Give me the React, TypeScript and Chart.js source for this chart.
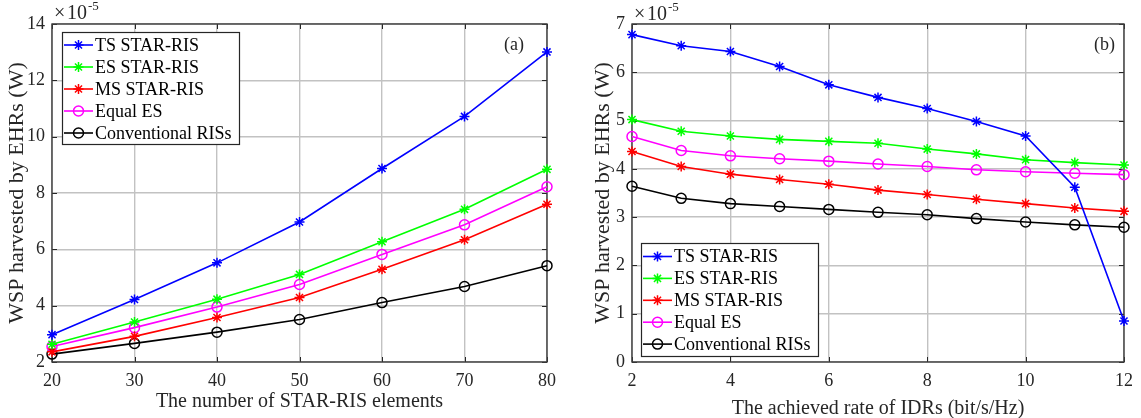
import React, { useEffect, useRef } from "react";
import { Chart, registerables } from "chart.js";

Chart.register(...registerables);

const FONT = '"Liberation Serif", "Times New Roman", Times, serif';
const TEXT = "#262626";

const seriesNames = ["TS STAR-RIS", "ES STAR-RIS", "MS STAR-RIS", "Equal ES", "Conventional RISs"];
const seriesColors = ["#0000ff", "#00ff00", "#ff0000", "#ff00ff", "#000000"];
const seriesMarkers = ["star", "star", "star", "circle", "circle"];

// Panel (a): WSP (x1e-5 W) vs number of STAR-RIS elements
const elementsA = [20, 30, 40, 50, 60, 70, 80];
const tsA = [2.97, 4.22, 5.52, 6.97, 8.87, 10.72, 13.01];
const esA = [2.63, 3.42, 4.23, 5.11, 6.27, 7.42, 8.84];
const msA = [2.36, 2.91, 3.58, 4.29, 5.29, 6.34, 7.6];
const eqA = [2.55, 3.22, 3.95, 4.75, 5.82, 6.87, 8.22];
const convA = [2.28, 2.66, 3.06, 3.51, 4.11, 4.68, 5.42];
const xTicksA = [20, 30, 40, 50, 60, 70, 80];
const yTicksA = [2, 4, 6, 8, 10, 12, 14];

// Panel (b): WSP (x1e-5 W) vs achieved rate of IDRs
const rateB = [2, 3, 4, 5, 6, 7, 8, 9, 10, 11, 12];
const tsB = [6.78, 6.55, 6.43, 6.12, 5.74, 5.48, 5.25, 4.98, 4.68, 3.62, 0.85];
const esB = [5.02, 4.78, 4.68, 4.61, 4.57, 4.53, 4.41, 4.31, 4.19, 4.13, 4.08];
const msB = [4.36, 4.05, 3.89, 3.78, 3.68, 3.56, 3.47, 3.37, 3.28, 3.19, 3.12];
const eqB = [4.67, 4.38, 4.27, 4.21, 4.16, 4.1, 4.05, 3.98, 3.94, 3.91, 3.88];
const convB = [3.64, 3.39, 3.28, 3.22, 3.16, 3.1, 3.05, 2.97, 2.9, 2.84, 2.79];
const xTicksB = [2, 4, 6, 8, 10, 12];
const yTicksB = [0, 1, 2, 3, 4, 5, 6, 7];

function drawMarker(ctx: CanvasRenderingContext2D, style: string, x: number, y: number, r: number, color: string) {
  ctx.save();
  ctx.strokeStyle = color;
  ctx.lineWidth = 1.5;
  ctx.beginPath();
  if (style === "circle") {
    ctx.arc(x, y, r, 0, Math.PI * 2);
  } else {
    const d = r * Math.SQRT1_2;
    ctx.moveTo(x - r, y);
    ctx.lineTo(x + r, y);
    ctx.moveTo(x, y - r);
    ctx.lineTo(x, y + r);
    ctx.moveTo(x - d, y - d);
    ctx.lineTo(x + d, y + d);
    ctx.moveTo(x - d, y + d);
    ctx.lineTo(x + d, y - d);
  }
  ctx.stroke();
  ctx.restore();
}

const decorPlugin = {
  id: "matlabDecor",
  beforeDatasetsDraw(chart: any, _args: any, opts: any) {
    const { ctx, chartArea: a } = chart;
    const xs = chart.scales.x;
    const ys = chart.scales.y;
    ctx.save();
    ctx.strokeStyle = TEXT;
    ctx.lineWidth = 1;
    const tl = 5;
    ctx.beginPath();
    for (const v of opts.xTicks) {
      const px = Math.round(xs.getPixelForValue(v)) + 0.5;
      ctx.moveTo(px, a.bottom);
      ctx.lineTo(px, a.bottom - tl);
      ctx.moveTo(px, a.top);
      ctx.lineTo(px, a.top + tl);
    }
    for (const v of opts.yTicks) {
      const py = Math.round(ys.getPixelForValue(v)) + 0.5;
      ctx.moveTo(a.left, py);
      ctx.lineTo(a.left + tl, py);
      ctx.moveTo(a.right, py);
      ctx.lineTo(a.right - tl, py);
    }
    ctx.stroke();
    ctx.strokeStyle = "#3c3c3c";
    ctx.lineWidth = 1.4;
    ctx.strokeRect(a.left, a.top, a.right - a.left, a.bottom - a.top);
    ctx.restore();
  },
  afterDraw(chart: any, _args: any, opts: any) {
    const { ctx, chartArea: a } = chart;
    ctx.save();
    // exponent label
    ctx.fillStyle = TEXT;
    ctx.textBaseline = "alphabetic";
    ctx.textAlign = "left";
    ctx.font = `20px ${FONT}`;
    ctx.fillText("\u00d7", a.left + 2, opts.expBase);
    ctx.fillText("10", a.left + 15, opts.expBase);
    ctx.font = `13px ${FONT}`;
    ctx.fillText("-5", a.left + 36, opts.expBase - 9);
    // panel label
    ctx.font = `18px ${FONT}`;
    ctx.textAlign = "right";
    ctx.textBaseline = "middle";
    ctx.fillText(opts.panel, a.right - opts.panelRight, 45);
    // legend
    const L = opts.legend;
    ctx.fillStyle = "#ffffff";
    ctx.fillRect(L.x, L.y, L.w, L.h);
    ctx.strokeStyle = TEXT;
    ctx.lineWidth = 1.2;
    ctx.strokeRect(L.x + 0.5, L.y + 0.5, L.w, L.h);
    chart.data.datasets.forEach((ds: any, i: number) => {
      const cy = L.y + L.first + i * L.step;
      ctx.strokeStyle = ds.borderColor;
      ctx.lineWidth = 1.6;
      ctx.beginPath();
      ctx.moveTo(L.x + 2, cy);
      ctx.lineTo(L.x + 31, cy);
      ctx.stroke();
      drawMarker(ctx, ds.pointStyle, L.x + 16.5, cy, 5, ds.borderColor);
      ctx.fillStyle = "#000000";
      ctx.font = `18px ${FONT}`;
      ctx.textAlign = "left";
      ctx.textBaseline = "middle";
      ctx.fillText(ds.label, L.x + 33, cy + 1);
    });
    ctx.restore();
  },
};

type PanelProps = {
  left: number;
  width: number;
  xs: number[];
  series: number[][];
  xMin: number;
  xMax: number;
  yMin: number;
  yMax: number;
  xTicks: number[];
  yTicks: number[];
  xTitle: string;
  yAxisWidth: number;
  padRight: number;
  yTitleOffset: number;
  xTitlePad: number;
  panel: string;
  panelRight: number;
  expBase: number;
  legend: { x: number; y: number; w: number; h: number; first: number; step: number };
};

function Panel(p: PanelProps) {
  const ref = useRef<HTMLCanvasElement>(null);
  useEffect(() => {
    if (!ref.current) return;
    const tickFont = { family: FONT, size: 18 };
    const chart = new Chart(ref.current, {
      type: "line",
      data: {
        datasets: p.series.map((vals, i) => ({
          label: seriesNames[i],
          data: p.xs.map((x, j) => ({ x, y: vals[j] })),
          borderColor: seriesColors[i],
          backgroundColor: seriesColors[i],
          borderWidth: 1.6,
          pointStyle: seriesMarkers[i] as any,
          pointRadius: 5,
          pointHoverRadius: 5,
          pointBorderWidth: 1.5,
          pointBorderColor: seriesColors[i],
          pointBackgroundColor: "rgba(0,0,0,0)",
          tension: 0,
          fill: false,
          clip: false as any,
        })),
      },
      options: {
        animation: false,
        responsive: false,
        events: [],
        layout: { padding: { left: 0, top: 24, right: p.padRight, bottom: 0 } },
        plugins: {
          legend: { display: false },
          tooltip: { enabled: false },
          matlabDecor: {
            xTicks: p.xTicks,
            yTicks: p.yTicks,
            panel: p.panel,
            panelRight: p.panelRight,
            expBase: p.expBase,
            legend: p.legend,
          },
        } as any,
        scales: {
          x: {
            type: "linear",
            min: p.xMin,
            max: p.xMax,
            afterBuildTicks: (s: any) => {
              s.ticks = p.xTicks.map((v) => ({ value: v }));
            },
            afterFit: (s: any) => {
              s.height = 418 - 362;
            },
            grid: { color: "#c2c2c2", lineWidth: 1.4, drawTicks: false },
            border: { display: false },
            ticks: { padding: 8, color: TEXT, font: tickFont, maxRotation: 0, autoSkip: false },
            title: {
              display: true,
              text: p.xTitle,
              color: TEXT,
              font: { family: FONT, size: 20 },
              padding: { top: 0, bottom: p.xTitlePad },
            },
          },
          y: {
            type: "linear",
            min: p.yMin,
            max: p.yMax,
            afterBuildTicks: (s: any) => {
              s.ticks = p.yTicks.map((v) => ({ value: v }));
            },
            afterFit: (s: any) => {
              s.width = p.yAxisWidth;
            },
            grid: { color: "#c2c2c2", lineWidth: 1.4, drawTicks: false },
            border: { display: false },
            ticks: { padding: 7, color: TEXT, font: tickFont, autoSkip: false },
            title: {
              display: true,
              text: "WSP harvested by EHRs (W)",
              color: TEXT,
              font: { family: FONT, size: 22 },
              padding: { top: p.yTitleOffset, bottom: 0 },
            },
          },
        },
      },
      plugins: [decorPlugin],
    });
    return () => chart.destroy();
  }, []);
  return (
    <canvas
      ref={ref}
      width={p.width}
      height={418}
      style={{ position: "absolute", left: p.left, top: 0, width: p.width, height: 418 }}
    />
  );
}

export default function App() {
  return (
    <div style={{ position: "absolute", left: 0, top: 0, width: 1141, height: 418, background: "#ffffff", overflow: "hidden" }}>
      <Panel
        left={0}
        width={575}
        xs={elementsA}
        series={[tsA, esA, msA, eqA, convA]}
        xMin={20}
        xMax={80}
        yMin={2}
        yMax={14}
        xTicks={xTicksA}
        yTicks={yTicksA}
        xTitle="The number of STAR-RIS elements"
        yAxisWidth={52}
        padRight={575 - 547}
        yTitleOffset={4}
        xTitlePad={4}
        panel="(a)"
        panelRight={23}
        expBase={19}
        legend={{ x: 62, y: 32, w: 177, h: 112, first: 13, step: 22 }}
      />
      <Panel
        left={575}
        width={566}
        xs={rateB}
        series={[tsB, esB, msB, eqB, convB]}
        xMin={2}
        xMax={12}
        yMin={0}
        yMax={7}
        xTicks={xTicksB}
        yTicks={yTicksB}
        xTitle="The achieved rate of IDRs (bit/s/Hz)"
        yAxisWidth={632 - 575}
        padRight={15}
        yTitleOffset={15}
        xTitlePad={-3}
        panel="(b)"
        panelRight={9}
        expBase={20}
        legend={{ x: 641 - 575, y: 243, w: 177, h: 113, first: 13.5, step: 21.9 }}
      />
    </div>
  );
}
